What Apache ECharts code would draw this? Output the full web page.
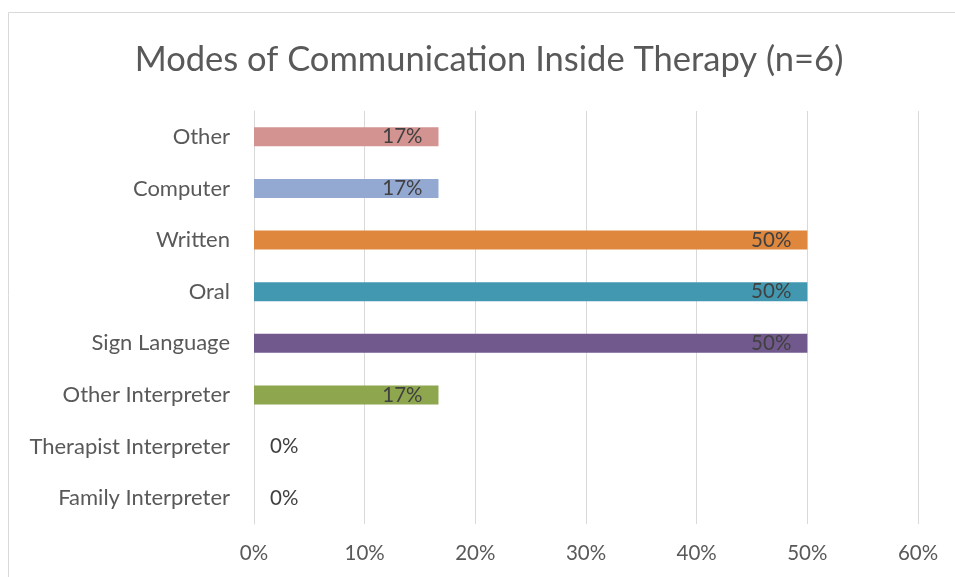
<!DOCTYPE html>
<html>
<head>
<meta charset="utf-8">
<script src="https://cdn.jsdelivr.net/npm/echarts@6/dist/echarts.min.js"></script>
<style>
  html, body { margin: 0; padding: 0; background: #fff; }
  #chart { width: 955px; height: 577px; }
</style>
</head>
<body>
<div id="chart"></div>
<script>
// categories listed top to bottom
var categories = ["Other", "Computer", "Written", "Oral", "Sign Language",
  "Other Interpreter", "Therapist Interpreter", "Family Interpreter"];
var values = [16.67, 16.67, 50, 50, 50, 16.67, 0, 0];
var barColors = ["#d39391", "#94a9d2", "#de873d", "#4298b0", "#71598e",
  "#8ea64d", "#8ea64d", "#8ea64d"];
var xTicks = [0, 10, 20, 30, 40, 50, 60];

var font = "Lato";

var chart = echarts.init(document.getElementById("chart"));

var seriesData = values.map(function (v, i) {
  var item = { value: v, itemStyle: { color: barColors[i] } };
  if (v === 0) {
    // excel puts the zero labels outside the bar
    item.label = { position: "right", distance: 16 };
  }
  return item;
});

chart.setOption({
  animation: false,
  title: {
    text: "Modes of Communication Inside Therapy (n=6)",
    left: 484,
    top: 37,
    textAlign: "center",
    textStyle: { fontFamily: font, fontSize: 34.5, fontWeight: "normal", color: "#595959" }
  },
  graphic: [{
    type: "rect",
    shape: { x: 8.5, y: 12.5, width: 1000, height: 1000 },
    style: { fill: "none", stroke: "#d9d9d9", lineWidth: 1 },
    silent: true
  }],
  grid: { left: 254, right: 37, top: 111, bottom: 53 },
  xAxis: {
    type: "value",
    min: xTicks[0],
    max: xTicks[xTicks.length - 1],
    interval: 10,
    axisLine: { show: false },
    axisTick: { show: false },
    splitLine: { lineStyle: { color: "#d9d9d9", width: 1 } },
    axisLabel: {
      margin: 19,
      fontFamily: font, fontSize: 20.5, color: "#595959",
      formatter: function (v) { return v + "%"; }
    }
  },
  yAxis: {
    type: "category",
    inverse: true,
    data: categories,
    axisLine: { lineStyle: { color: "#d9d9d9" } },
    axisTick: { show: false },
    axisLabel: { margin: 24, fontFamily: font, fontSize: 22, color: "#595959" }
  },
  series: [{
    type: "bar",
    data: seriesData,
    barWidth: 19,
    label: {
      show: true,
      position: "insideRight",
      distance: 16,
      fontFamily: font, fontSize: 20.5, color: "#404040",
      formatter: function (p) { return Math.round(p.value) + "%"; }
    }
  }]
});
</script>
</body>
</html>
